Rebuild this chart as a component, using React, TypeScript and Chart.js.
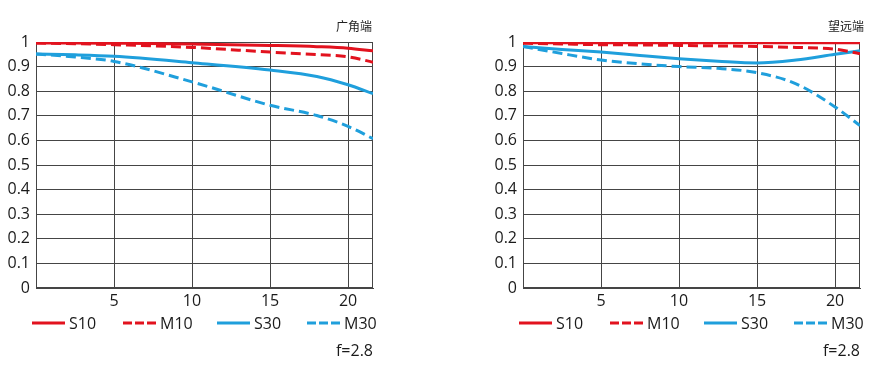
import React, { useEffect, useRef } from "react";
import { Chart, registerables } from "chart.js";

Chart.register(...registerables);

// ---- data ----
const seriesLabels = ["S10", "M10", "S30", "M30"];
const xTickValues = [5, 10, 15, 20];
const yTickMax = 1;
const xMax = 21.6;

const wideTitle = "广角端";
const wideX = [0, 2.5, 5, 10, 15, 18, 20, 21.6];
const wideS10 = [0.996, 0.996, 0.995, 0.992, 0.986, 0.981, 0.975, 0.964];
const wideM10 = [0.996, 0.993, 0.989, 0.978, 0.959, 0.949, 0.94, 0.918];
const wideS30 = [0.951, 0.948, 0.942, 0.916, 0.886, 0.86, 0.826, 0.79];
const wideM30 = [0.951, 0.939, 0.921, 0.838, 0.743, 0.701, 0.657, 0.607];

const teleTitle = "望远端";
const teleX = [0, 2.5, 5, 7.5, 10, 12.5, 15, 17.5, 20, 21.6];
const teleS10 = [0.997, 0.997, 0.997, 0.997, 0.997, 0.997, 0.997, 0.997, 0.997, 0.997];
const teleM10 = [0.995, 0.992, 0.989, 0.988, 0.986, 0.984, 0.982, 0.978, 0.971, 0.952];
const teleS30 = [0.982, 0.97, 0.959, 0.945, 0.932, 0.922, 0.915, 0.927, 0.95, 0.964];
const teleM30 = [0.982, 0.953, 0.927, 0.911, 0.9, 0.893, 0.875, 0.83, 0.736, 0.66];

const apertureNote = "f=2.8";

// ---- styles ----
const RED = "#e2121e";
const BLUE = "#1f9fdc";
const GRID = "#454545";
const TEXT = "#1a1a1a";
const FONT = "'Open Sans', 'Noto Sans', sans-serif";

const styles = [
  { color: RED, dash: [] as number[] },
  { color: RED, dash: [10, 5] },
  { color: BLUE, dash: [] as number[] },
  { color: BLUE, dash: [10, 5] },
];
const legendOffsets = [-4, 87, 181, 271];

type PanelProps = {
  title: string;
  xs: number[];
  series: number[][];
  left: number;
  width: number;
  padLeft: number;
  padRight: number;
  titleShift: number;
};

function Panel({ title, xs, series, left, width, padLeft, padRight, titleShift }: PanelProps) {
  const ref = useRef<HTMLCanvasElement | null>(null);
  useEffect(() => {
    const canvas = ref.current;
    if (!canvas) return;
    const decor = {
      id: "decor",
      beforeDatasetsDraw(chart: any) {
        const { ctx, chartArea: a } = chart;
        ctx.save();
        ctx.strokeStyle = GRID;
        ctx.lineWidth = 1;
        ctx.strokeRect(Math.round(a.left) + 0.5, Math.round(a.top) + 0.5, Math.round(a.right - a.left) - 1, Math.round(a.bottom - a.top) - 1);
        ctx.restore();
      },
      afterDraw(chart: any) {
        const { ctx, chartArea: a } = chart;
        ctx.save();
        // title
        ctx.fillStyle = "#222";
        ctx.font = "12px 'Noto Sans CJK SC', sans-serif";
        ctx.textAlign = "right";
        ctx.textBaseline = "middle";
        ctx.fillText(title, a.right + titleShift, a.top - 16);
        // legend
        const ly = a.bottom + 35;
        ctx.font = `16px ${FONT}`;
        ctx.textAlign = "left";
        seriesLabels.forEach((lab, i) => {
          const x0 = a.left + legendOffsets[i];
          ctx.strokeStyle = styles[i].color;
          ctx.lineWidth = 3;
          ctx.setLineDash(styles[i].dash.length ? [9, 3] : []);
          ctx.beginPath();
          ctx.moveTo(x0, ly);
          ctx.lineTo(x0 + 33, ly);
          ctx.stroke();
          ctx.setLineDash([]);
          ctx.fillStyle = TEXT;
          ctx.fillText(lab, x0 + 37, ly + 1);
        });
        // note
        ctx.textAlign = "right";
        ctx.fillText(apertureNote, a.right, a.bottom + 63);
        ctx.restore();
      },
    };
    const chart = new Chart(canvas, {
      type: "line",
      data: {
        datasets: series.map((vals, i) => ({
          label: seriesLabels[i],
          data: xs.map((x, j) => ({ x, y: vals[j] })),
          borderColor: styles[i].color,
          borderDash: styles[i].dash,
          borderWidth: 3,
          pointRadius: 0,
          fill: false,
          cubicInterpolationMode: "monotone" as const,
        })),
      },
      options: {
        animation: false,
        responsive: false,
        devicePixelRatio: 1,
        layout: { padding: { left: padLeft, top: 42, right: padRight, bottom: 56 } },
        plugins: { legend: { display: false }, tooltip: { enabled: false } },
        scales: {
          x: {
            type: "linear",
            min: 0,
            max: xMax,
            afterFit: (s: any) => {
              s.height = 30;
            },
            afterBuildTicks: (s: any) => {
              s.ticks = [0, ...xTickValues].map((v) => ({ value: v }));
            },
            ticks: {
              padding: 4,
              color: TEXT,
              font: { family: FONT, size: 16 },
              callback: (v: any) => (v === 0 ? "" : String(v)),
              maxRotation: 0,
            },
            grid: { color: GRID, lineWidth: 1, drawTicks: false },
            border: { display: true, color: GRID, width: 1 },
          },
          y: {
            type: "linear",
            min: 0,
            max: yTickMax,
            afterFit: (s: any) => {
              s.width = 36;
            },
            ticks: {
              stepSize: 0.1,
              padding: 6,
              color: TEXT,
              font: { family: FONT, size: 16 },
              callback: (v: any) => {
                const r = Math.round(Number(v) * 10) / 10;
                return r === 0 ? "0" : r === 1 ? "1" : r.toFixed(1);
              },
            },
            grid: { color: GRID, lineWidth: 1, drawTicks: false },
            border: { display: true, color: GRID, width: 1 },
          },
        },
      },
      plugins: [decor],
    } as any);
    return () => chart.destroy();
  }, []);
  return (
    <canvas
      ref={ref}
      width={width}
      height={374}
      style={{ position: "absolute", left, top: 0, width, height: 374 }}
    />
  );
}

export default function App() {
  return (
    <div style={{ position: "absolute", left: 0, top: 0, width: 883, height: 374, background: "#fff" }}>
      <Panel
        title={wideTitle}
        xs={wideX}
        series={[wideS10, wideM10, wideS30, wideM30]}
        left={0}
        width={441}
        padLeft={0}
        padRight={68}
        titleShift={-1}
      />
      <Panel
        title={teleTitle}
        xs={teleX}
        series={[teleS10, teleM10, teleS30, teleM30]}
        left={441}
        width={442}
        padLeft={46}
        padRight={23}
        titleShift={4}
      />
    </div>
  );
}
